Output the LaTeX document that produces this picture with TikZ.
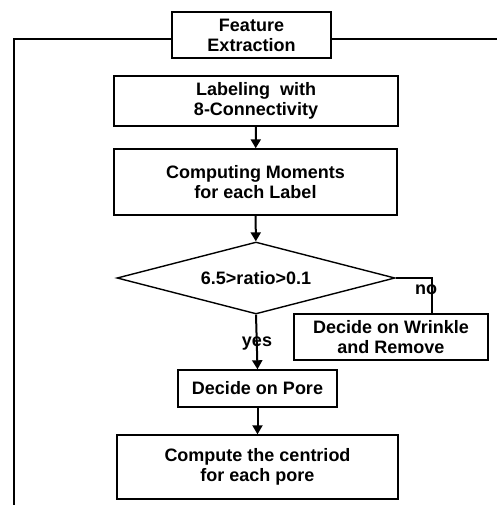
\documentclass[tikz,border=0pt]{standalone}
\usepackage{fontspec}
\setmainfont{Liberation Sans}
\usetikzlibrary{arrows.meta,shapes.geometric}
\begin{document}
\begin{tikzpicture}[x=1pt,y=-1pt,
  font=\fontsize{18}{20}\selectfont\bfseries,
  box/.style={draw=black,line width=1.4pt,fill=white,align=center,inner sep=0pt},
  conn/.style={draw=black,line width=2pt},
  arr/.style={conn,-{Triangle[length=9pt,width=10pt]}},
  lbl/.style={inner sep=0pt}]
\useasboundingbox (0,0) rectangle (497,505);
% outer frame
\node[box,minimum width=159pt,minimum height=46pt] (fe) at (251.5,35) {Feature\\Extraction};
\coordinate (fl) at (172,39);
\coordinate (fr) at (331,39);
\coordinate (tl) at (14,39);
\coordinate (bl) at (14,505);
\coordinate (tr) at (497,39);
\draw[line width=1.4pt] (fl) -- (tl) -- (bl);
\draw[line width=1.4pt] (fr) -- (tr);
% nodes
\node[box,minimum width=284pt,minimum height=50pt] (lab) at (256,101) {Labeling\ \ with\\8-Connectivity};
\node[box,minimum width=283pt,minimum height=66pt] (mom) at (255.5,182) {Computing Moments\\for each Label};
\node[box,diamond,aspect=3.86,minimum width=278pt,minimum height=72pt] (dia) at (256,278) {6.5>ratio>0.1};
\node[box,minimum width=194pt,minimum height=46pt] (wr) at (391,337) {Decide on Wrinkle\\and Remove};
\node[box,minimum width=159pt,minimum height=37pt] (pore) at (257.5,388.5) {Decide on Pore};
\node[box,minimum width=281pt,minimum height=64pt] (cen) at (257.5,467) {Compute the centriod\\for each pore};
% connectors
\draw[arr] (lab) -- (mom);
\draw[arr] (mom) -- (dia);
\draw[arr] (dia.south) -- (pore.north);
\coordinate (nc) at (432,278);
\coordinate (nd) at (432,314);
\draw[conn] (dia.east) -- (nc) -- (nd);
\draw[arr] (pore) -- (cen);
% labels
\node[lbl] (yes) at (257,344) {yes};
\node[lbl] (no) at (426,290) {no};
\end{tikzpicture}
\end{document}
